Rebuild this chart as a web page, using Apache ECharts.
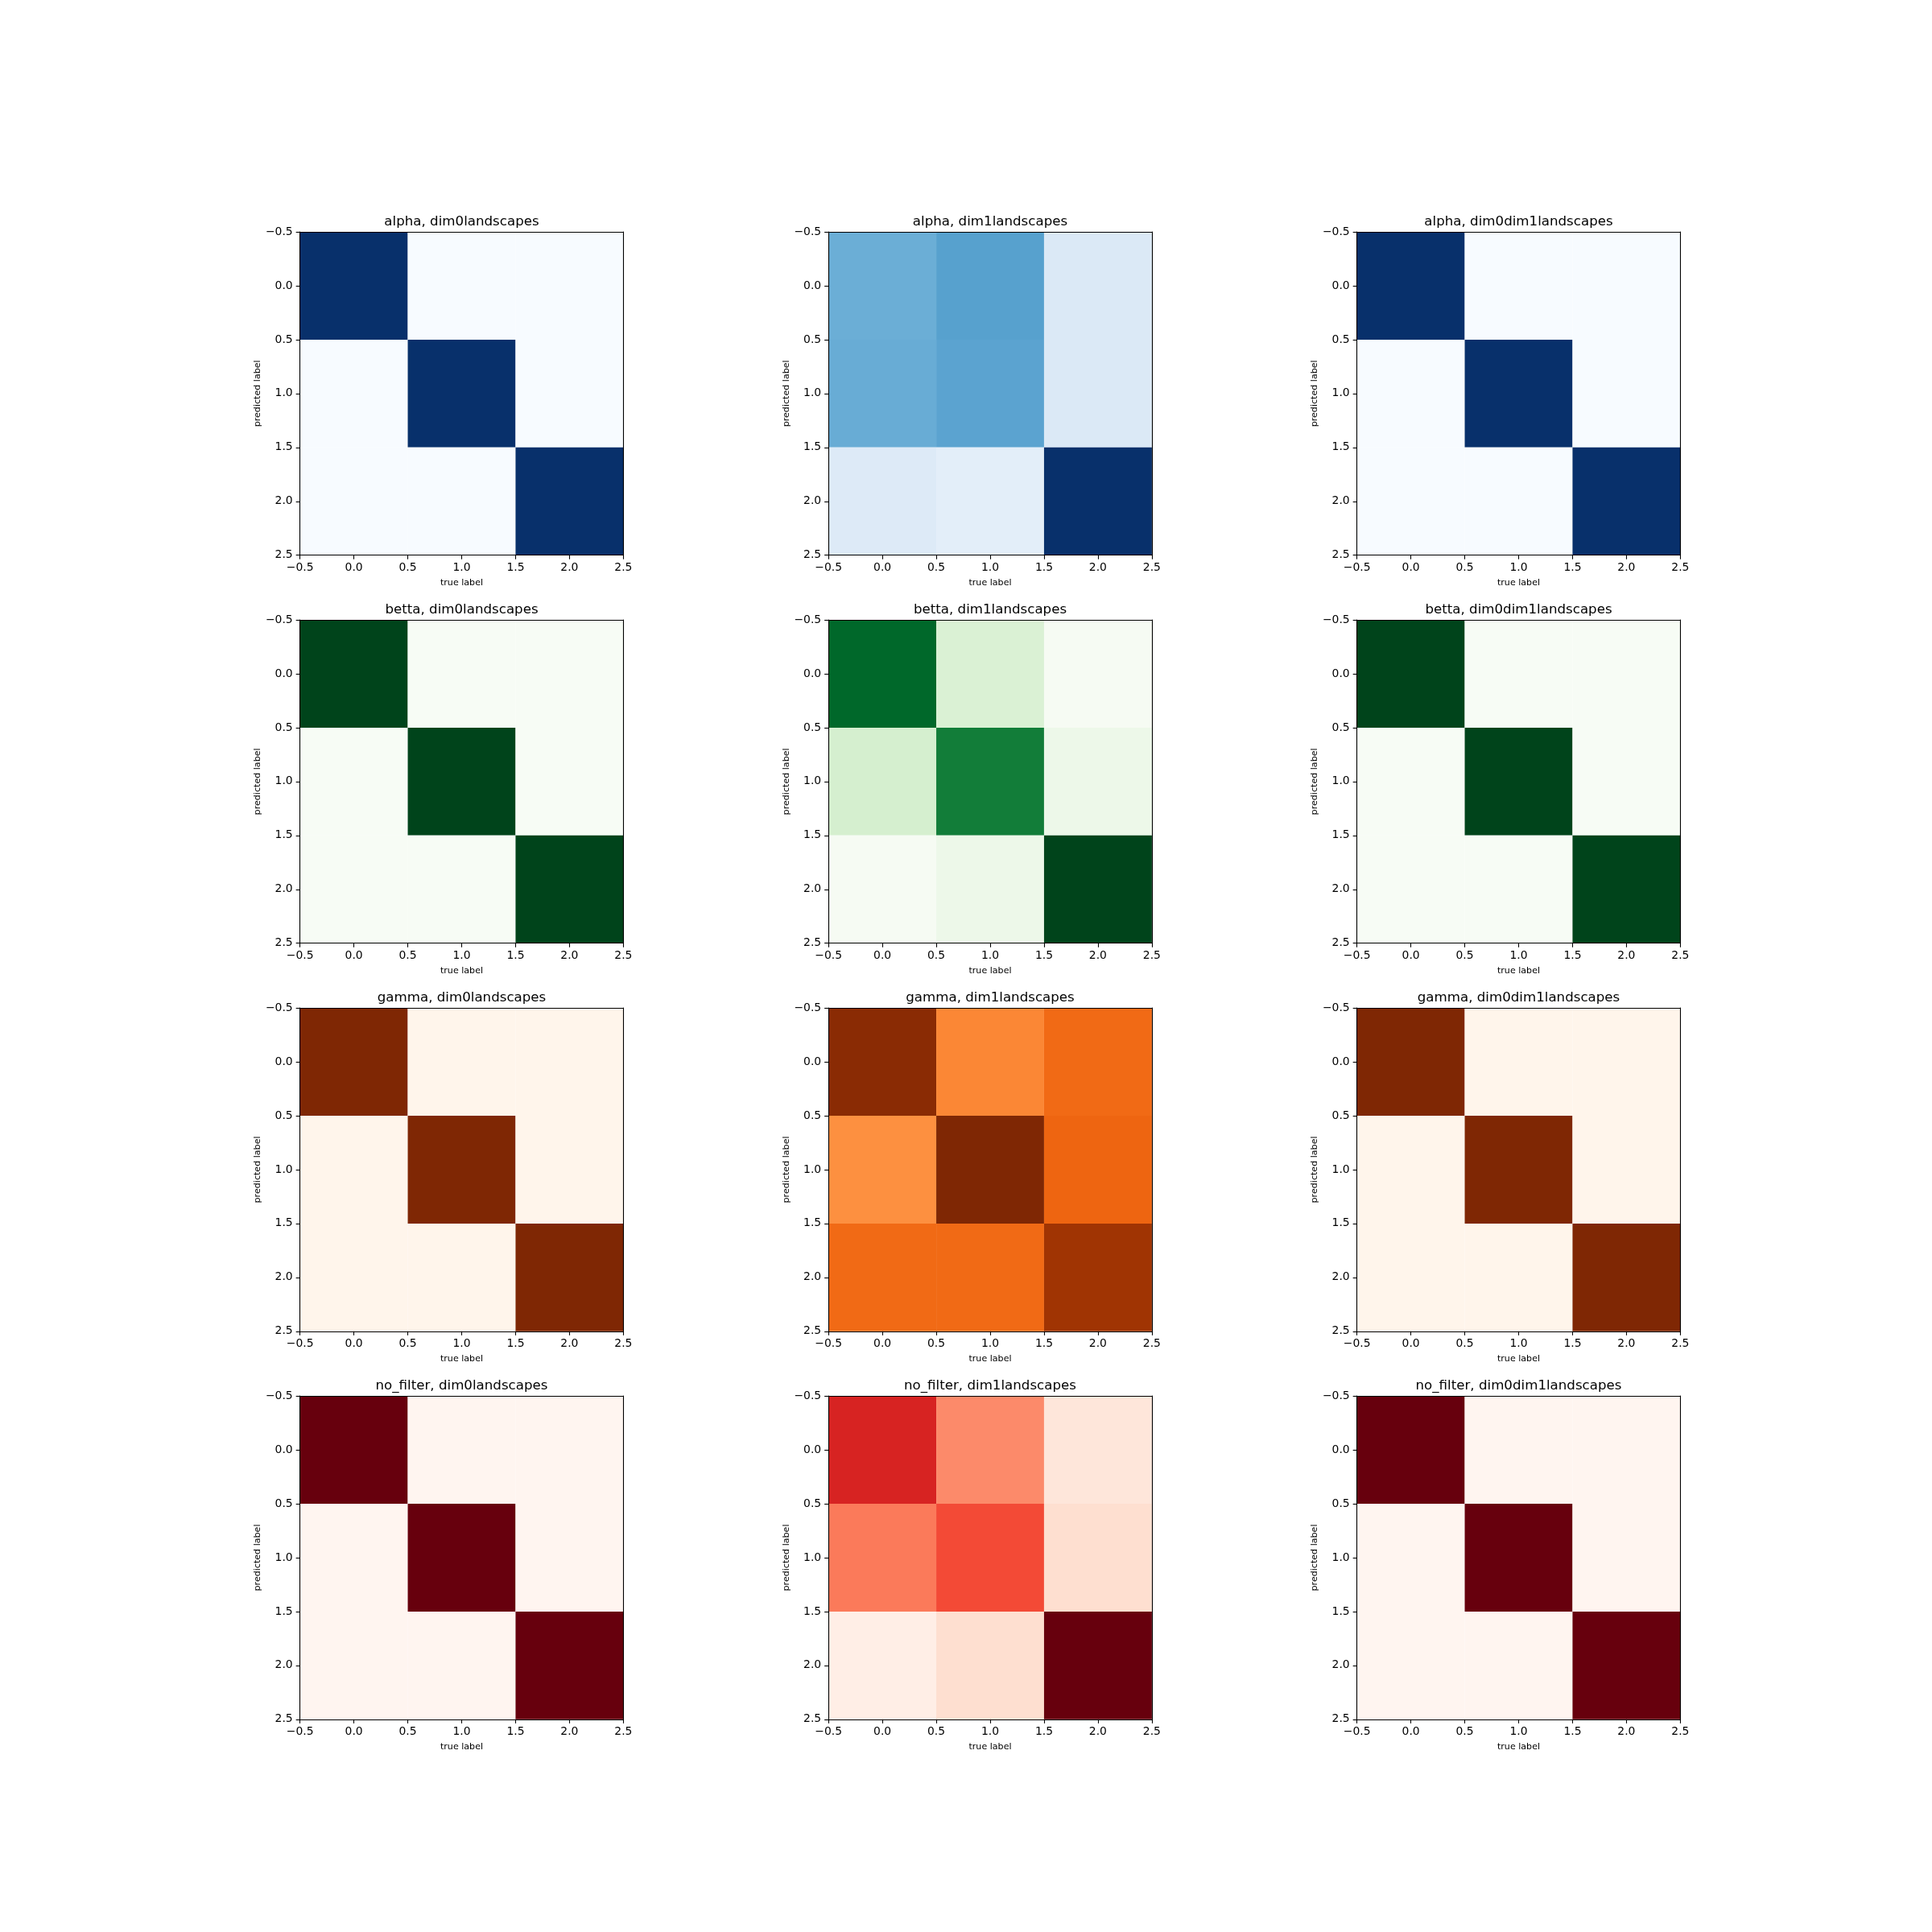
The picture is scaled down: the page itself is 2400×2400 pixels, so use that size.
<!DOCTYPE html>
<html>
<head>
<meta charset="utf-8">
<script src="https://cdn.jsdelivr.net/npm/echarts@6/dist/echarts.min.js"></script>
<style>html,body{margin:0;padding:0;background:#fff;}#c{width:2400px;height:2400px;}</style>
</head>
<body>
<div id="c"></div>
<script>
// ---- data ----
const filters = ['alpha', 'betta', 'gamma', 'no_filter'];
const featureSets = ['dim0landscapes', 'dim1landscapes', 'dim0dim1landscapes'];
const tickValues = [-0.5, 0.0, 0.5, 1.0, 1.5, 2.0, 2.5];
const xLabelName = 'true label';
const yLabelName = 'predicted label';

// rows = predicted label (0..2), cols = true label (0..2)
const alpha_dim0 = [[1, 0, 0], [0, 1, 0], [0, 0, 1]];
const alpha_dim1 = [[0.50, 0.56, 0.14], [0.51, 0.55, 0.14], [0.13, 0.10, 1.00]];
const alpha_dim0dim1 = [[1, 0, 0], [0, 1, 0], [0, 0, 1]];

const betta_dim0 = [[1, 0, 0], [0, 1, 0], [0, 0, 1]];
const betta_dim1 = [[0.89, 0.17, 0.01], [0.19, 0.81, 0.07], [0.01, 0.07, 1.00]];
const betta_dim0dim1 = [[1, 0, 0], [0, 1, 0], [0, 0, 1]];

const gamma_dim0 = [[1, 0, 0], [0, 1, 0], [0, 0, 1]];
const gamma_dim1 = [[0.965, 0.52, 0.62], [0.49, 1.00, 0.64], [0.62, 0.62, 0.895]];
const gamma_dim0dim1 = [[1, 0, 0], [0, 1, 0], [0, 0, 1]];

const nofilter_dim0 = [[1, 0, 0], [0, 1, 0], [0, 0, 1]];
const nofilter_dim1 = [[0.71, 0.40, 0.09], [0.45, 0.585, 0.13], [0.04, 0.13, 1.00]];
const nofilter_dim0dim1 = [[1, 0, 0], [0, 1, 0], [0, 0, 1]];

const matrices = [
  [alpha_dim0, alpha_dim1, alpha_dim0dim1],
  [betta_dim0, betta_dim1, betta_dim0dim1],
  [gamma_dim0, gamma_dim1, gamma_dim0dim1],
  [nofilter_dim0, nofilter_dim1, nofilter_dim0dim1]
];

// matplotlib colormaps (colorbrewer stops)
const cmapBlues = ['#f7fbff', '#deebf7', '#c6dbef', '#9ecae1', '#6baed6', '#4292c6', '#2171b5', '#08519c', '#08306b'];
const cmapGreens = ['#f7fcf5', '#e5f5e0', '#c7e9c0', '#a1d99b', '#74c476', '#41ab5d', '#238b45', '#006d2c', '#00441b'];
const cmapOranges = ['#fff5eb', '#fee6ce', '#fdd0a2', '#fdae6b', '#fd8d3c', '#f16913', '#d94801', '#a63603', '#7f2704'];
const cmapReds = ['#fff5f0', '#fee0d2', '#fcbba1', '#fc9272', '#fb6a4a', '#ef3b2c', '#cb181d', '#a50f15', '#67000d'];
const cmaps = [cmapBlues, cmapGreens, cmapOranges, cmapReds];

// ---- layout ----
const FIG_L = 300, FIG_T = 288, CELL_W = 547, AX = 401.7, COL_STEP = 656.5, ROW_STEP = 482.04;
const FONT = 'DejaVu Sans';

const grids = [], xAxes = [], yAxes = [], series = [], visualMaps = [], titles = [];
const fmt = v => { const s = v.toFixed(1); return s.replace('-', '\u2212'); };

let gi = 0;
for (let r = 0; r < 4; r++) {
  for (let c = 0; c < 3; c++) {
    const left = FIG_L + c * COL_STEP + (CELL_W - AX) / 2;
    const top = FIG_T + r * ROW_STEP;
    grids.push({ left: left, top: top, width: AX, height: AX, containLabel: false, show: false });
    // main axes
    xAxes.push({
      gridIndex: gi, type: 'value', position: 'bottom', min: tickValues[0], max: tickValues[tickValues.length - 1], interval: 0.5,
      z: 5,
      axisLine: { show: true, onZero: false, lineStyle: { color: '#000', width: 1.1 } },
      axisTick: { show: true, inside: false, length: 5, lineStyle: { color: '#000', width: 1.1 } },
      axisLabel: { show: true, margin: 9, formatter: fmt, color: '#000', fontFamily: FONT, fontSize: 13.9, showMinLabel: true, showMaxLabel: true },
      splitLine: { show: false },
      name: xLabelName, nameLocation: 'middle', nameGap: 29,
      nameTextStyle: { fontFamily: FONT, fontSize: 11.1, color: '#000' }
    });
    yAxes.push({
      gridIndex: gi, type: 'value', position: 'left', inverse: true, min: tickValues[0], max: tickValues[tickValues.length - 1], interval: 0.5,
      z: 5,
      axisLine: { show: true, onZero: false, lineStyle: { color: '#000', width: 1.1 } },
      axisTick: { show: true, inside: false, length: 5, lineStyle: { color: '#000', width: 1.1 } },
      axisLabel: { show: true, margin: 9, formatter: fmt, color: '#000', fontFamily: FONT, fontSize: 13.9, showMinLabel: true, showMaxLabel: true },
      splitLine: { show: false },
      name: yLabelName, nameLocation: 'middle', nameGap: 47, nameRotate: 90,
      nameTextStyle: { fontFamily: FONT, fontSize: 11.1, color: '#000' }
    });
    // spines top/right
    xAxes.push({
      gridIndex: gi, type: 'value', position: 'top', min: -0.5, max: 2.5, interval: 0.5, z: 5,
      axisLine: { show: true, onZero: false, lineStyle: { color: '#000', width: 1.1 } },
      axisTick: { show: false }, axisLabel: { show: false }, splitLine: { show: false }
    });
    yAxes.push({
      gridIndex: gi, type: 'value', position: 'right', inverse: true, min: -0.5, max: 2.5, interval: 0.5, z: 5,
      axisLine: { show: true, onZero: false, lineStyle: { color: '#000', width: 1.1 } },
      axisTick: { show: false }, axisLabel: { show: false }, splitLine: { show: false }
    });

    const m = matrices[r][c];
    const data = [];
    for (let i = 0; i < 3; i++) for (let j = 0; j < 3; j++) data.push([j, i, m[i][j]]);
    series.push({
      type: 'custom', xAxisIndex: gi * 2, yAxisIndex: gi * 2, data: data, z: 2,
      encode: { x: 0, y: 1 },
      renderItem: function (params, api) {
        const x = api.value(0), y = api.value(1);
        const p0 = api.coord([x - 0.5, y - 0.5]);
        const p1 = api.coord([x + 0.5, y + 0.5]);
        return {
          type: 'rect',
          shape: { x: Math.min(p0[0], p1[0]), y: Math.min(p0[1], p1[1]), width: Math.abs(p1[0] - p0[0]), height: Math.abs(p1[1] - p0[1]) },
          style: { fill: api.visual('color') }
        };
      }
    });
    visualMaps.push({ type: 'continuous', show: false, seriesIndex: gi, dimension: 2, min: 0, max: 1, inRange: { color: cmaps[r] } });
    titles.push({
      text: filters[r] + ', ' + featureSets[c], left: left + AX / 2, textAlign: 'center', top: top - 21, padding: 0,
      textStyle: { fontFamily: FONT, fontSize: 16.67, fontWeight: 'normal', color: '#000' }
    });
    gi++;
  }
}

const chart = echarts.init(document.getElementById('c'), null, { renderer: 'canvas' });
chart.setOption({
  backgroundColor: '#ffffff',
  animation: false,
  title: titles,
  grid: grids,
  xAxis: xAxes,
  yAxis: yAxes,
  visualMap: visualMaps,
  series: series
});
</script>
</body>
</html>
